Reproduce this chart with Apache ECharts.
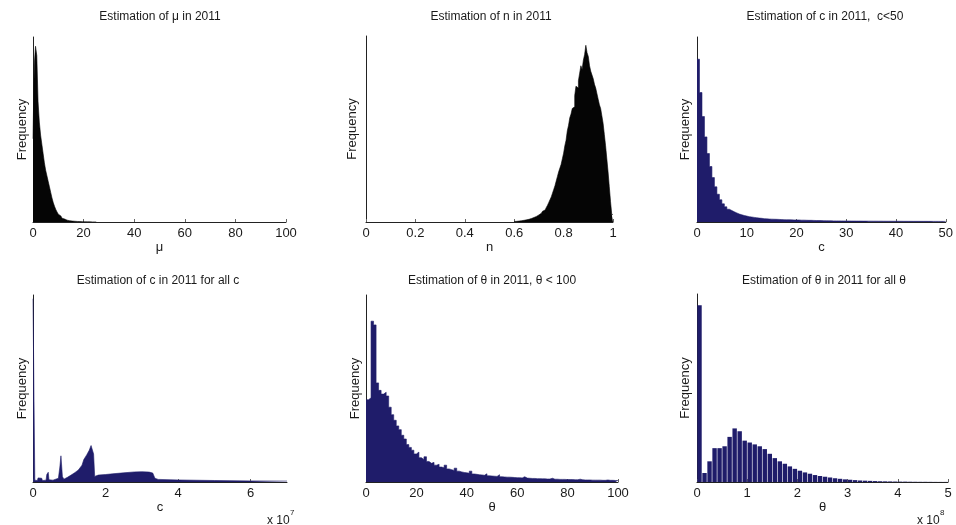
<!DOCTYPE html>
<html>
<head>
<meta charset="utf-8">
<script src="https://cdn.jsdelivr.net/npm/echarts@6/dist/echarts.min.js"></script>
<style>
html,body{margin:0;padding:0;background:#fff;}
#chart{width:956px;height:525px;}
</style>
</head>
<body>
<div id="chart"></div>
<script>
// ---------- DATA (relative frequency, % of axis height) ----------
// Panel 1: mu, bins of width 0.5 starting at 0
const muBinStart = 0, muBinWidth = 0.5;
const muFreq = [45, 85, 95, 90, 65, 54, 47, 42, 37, 32, 28, 25, 22, 19, 16, 13, 10.5, 8.5, 6.8, 5.4,
  4.2, 3.3, 2.6, 2.0, 1.6, 1.3, 1.0, 0.85, 0.7, 0.6, 0.5, 0.45, 0.4, 0.35, 0.3, 0.3, 0.25, 0.2, 0.2, 0.15,
  0.12, 0.1, 0.1, 0.08, 0.08, 0.06, 0.05, 0.05, 0.04, 0.04];

// Panel 2: n, bins of width 0.005 starting at 0.60
const nBinStart = 0.60, nBinWidth = 0.005;
const nFreq = [0.3, 0.35, 0.4, 0.5, 0.6, 0.7, 0.8, 0.9, 1.0, 1.15, 1.3, 1.45, 1.6, 1.9, 2.1, 2.4, 2.7, 3.0, 3.4, 3.8,
  4.2, 4.7, 5.2, 5.8, 6.4, 7.1, 7.8, 9.0, 10.5, 12, 13.5, 15.5, 17.5, 19.5, 22, 24.5, 27, 29, 31, 34,
  37, 41, 44, 49, 52, 56, 58, 61, 62, 68, 73, 72, 76, 80, 84, 82, 87, 90, 95, 91,
  89, 84, 81, 79, 77, 74, 72, 69, 66, 63, 61, 57, 53, 47, 41, 34, 27, 19, 11, 4];

// Panel 3: c < 50, bins of width 0.5 starting at 0
const cSmallBinStart = 0, cSmallBinWidth = 0.5;
const cSmallFreq = [88, 70, 57, 46, 37, 30, 24, 19, 15, 12, 9.8, 8.2, 6.9, 6.2, 5.5, 4.9, 4.3, 3.9, 3.5, 3.2,
  2.9, 2.7, 2.5, 2.3, 2.1, 2.0, 1.8, 1.7, 1.6, 1.55, 1.5, 1.45, 1.4, 1.3, 1.25, 1.2, 1.2, 1.15, 1.1, 1.1,
  1.1, 1.0, 1.0, 0.95, 0.9, 0.9, 0.85, 0.8, 0.8, 0.75, 0.7, 0.7, 0.65, 0.65, 0.6, 0.6, 0.6, 0.58, 0.56, 0.55,
  0.55, 0.53, 0.52, 0.5, 0.5, 0.5, 0.48, 0.48, 0.47, 0.46, 0.45, 0.45, 0.44, 0.44, 0.43, 0.42, 0.42, 0.41, 0.4, 0.4,
  0.4, 0.39, 0.38, 0.38, 0.37, 0.37, 0.36, 0.36, 0.36, 0.35, 0.35, 0.35, 0.34, 0.34, 0.33, 0.33, 0.33, 0.32, 0.32, 0.32];

// Panel 4: c for all c (x in units of 1e7), outline points of the histogram
const cAllX = [0, 0.005, 0.04, 0.05, 0.12, 0.14, 0.24, 0.26, 0.36, 0.38, 0.42, 0.44, 0.55, 0.70, 0.74, 0.77, 0.79, 0.81, 0.85, 0.95,
  1.05, 1.15, 1.25, 1.35, 1.40, 1.48, 1.52, 1.55, 1.60, 1.64, 1.67, 1.70, 1.80, 2.0, 2.2, 2.5, 2.8, 3.0, 3.2, 3.3,
  3.36, 3.45, 4.0, 5.0, 6.0, 7.0];
const cAllY = [98, 98, 98, 1, 0.8, 2.2, 2, 0.8, 1, 4, 5.2, 1.2, 1, 2, 8, 14, 13, 3, 1.5, 2.5,
  3.7, 5, 6.4, 9, 12, 14.5, 13.5, 17, 19.5, 20, 15, 3, 3.7, 4, 4.4, 4.9, 5.4, 5.5, 5.3, 4.8,
  2, 1.4, 1.1, 0.8, 0.6, 0.5];

// Panel 5: theta < 100, bins of width 1 starting at 0
const thSmallBinStart = 0, thSmallBinWidth = 1;
const thSmallFreq = [44, 45, 86, 84, 53, 49, 47, 48, 46, 40, 36, 33, 30, 28, 25, 23, 20, 18.5, 17, 15,
  16, 13, 12, 13.5, 11, 10, 10.5, 9, 9.5, 8, 7.6, 9, 7, 6.6, 6.2, 7.4, 5.8, 5.4, 5.1, 4.9,
  4.7, 5.8, 4.3, 4.1, 3.9, 3.8, 3.6, 4.4, 3.3, 3.2, 3.1, 3.0, 3.9, 2.8, 2.7, 2.6, 2.6, 2.5, 2.4, 2.3,
  2.3, 2.2, 2.8, 2.1, 2.0, 1.9, 1.9, 1.8, 1.8, 1.7, 1.7, 1.6, 1.6, 2.0, 1.5, 1.5, 1.4, 1.4, 1.4, 1.3,
  1.3, 1.3, 1.2, 1.2, 1.5, 1.2, 1.1, 1.1, 1.1, 1.0, 1.0, 1.0, 1.0, 0.9, 0.9, 1.1, 0.9, 0.9, 0.8, 0.8];

// Panel 6: theta for all theta (x in units of 1e8), bins of width 0.1 starting at 0
const thAllBinStart = 0, thAllBinWidth = 0.1;
const thAllFreq = [94, 4.8, 11, 18, 18, 19, 24, 28.5, 27, 22, 21, 20, 19, 17.5, 15, 12.7, 11, 9.7, 8.3, 7,
  6, 5.1, 4.4, 3.7, 3.2, 2.8, 2.4, 2.0, 1.7, 1.4, 1.2, 1.0, 0.8, 0.7, 0.6, 0.5, 0.4, 0.35, 0.3, 0.25,
  0.2, 0.2, 0.15, 0.12, 0.1, 0.1, 0.08, 0.06, 0.05, 0.05];

// Axis definitions
const axisMax = [100, 1, 50, 7, 100, 5];
const axisInterval = [20, 0.2, 10, 2, 20, 1];
const showMaxTick = [true, true, true, false, true, true];
const titles = [
  'Estimation of \u03bc in 2011',
  'Estimation of n in 2011',
  'Estimation of c in 2011,  c<50',
  'Estimation of c in 2011 for all c',
  'Estimation of \u03b8 in 2011, \u03b8 < 100',
  'Estimation of \u03b8 in 2011 for all \u03b8'
];
const xNames = ['\u03bc', 'n', 'c', 'c', '\u03b8', '\u03b8'];

// ---------- BUILD ----------
function histSteps(start, width, freq) {
  const pts = freq.map((v, i) => [start + i * width, v]);
  pts.push([start + freq.length * width, freq[freq.length - 1]]);
  return pts;
}
const BLACK = '#050505';
const NAVY = '#1f1c6a';
const FONT = 'Liberation Sans, Arial, Helvetica, sans-serif';
const TXT = '#1a1a1a';

const grids = [
  {left: 33, top: 37, width: 253, height: 185},
  {left: 366, top: 36, width: 247, height: 186},
  {left: 697, top: 37, width: 253, height: 185},
  {left: 33, top: 295, width: 254, height: 187},
  {left: 366, top: 295, width: 252, height: 187},
  {left: 697, top: 294, width: 251, height: 188}
];
const titlePos = [[160, 11], [491, 11], [825, 11], [158, 275], [492, 275], [824, 275]];
const nameGaps = [4, 7, 5, 4, 4, 5];

const option = {
  backgroundColor: '#ffffff',
  animation: false,
  title: titles.map((t, i) => ({
    text: t, left: titlePos[i][0], top: titlePos[i][1], textAlign: 'center', padding: 0,
    textStyle: {fontFamily: FONT, fontSize: 12, fontWeight: 'normal', color: TXT}
  })),
  grid: grids.map(g => Object.assign({containLabel: false}, g)),
  xAxis: grids.map((g, i) => ({
    type: 'value', gridIndex: i, min: 0, max: axisMax[i], interval: axisInterval[i],
    name: xNames[i], nameLocation: 'middle', nameGap: 14,
    nameTextStyle: {fontFamily: FONT, fontSize: 13, color: TXT},
    axisLine: {show: true, lineStyle: {color: '#222', width: 1}},
    axisTick: {show: true, inside: true, length: 3, lineStyle: {color: '#666'}},
    axisLabel: {fontFamily: FONT, fontSize: 13, color: TXT, margin: 5, showMaxLabel: showMaxTick[i]},
    splitLine: {show: false}
  })),
  yAxis: grids.map((g, i) => ({
    type: 'value', gridIndex: i, min: 0, max: 100,
    name: 'Frequency', nameLocation: 'middle', nameRotate: 90, nameGap: nameGaps[i],
    nameTextStyle: {fontFamily: FONT, fontSize: 13, color: TXT},
    axisLine: {show: true, lineStyle: {color: '#222', width: 1}},
    axisTick: {show: false}, axisLabel: {show: false}, splitLine: {show: false}
  })),
  series: [
    {type: 'line', xAxisIndex: 0, yAxisIndex: 0, step: 'end', showSymbol: false, silent: true,
     data: histSteps(muBinStart, muBinWidth, muFreq),
     lineStyle: {color: BLACK, width: 0.6}, areaStyle: {color: BLACK, opacity: 1}},
    {type: 'line', xAxisIndex: 1, yAxisIndex: 1, step: 'end', showSymbol: false, silent: true,
     data: histSteps(nBinStart, nBinWidth, nFreq),
     lineStyle: {color: BLACK, width: 0.6}, areaStyle: {color: BLACK, opacity: 1}},
    {type: 'line', xAxisIndex: 2, yAxisIndex: 2, step: 'end', showSymbol: false, silent: true,
     data: histSteps(cSmallBinStart, cSmallBinWidth, cSmallFreq),
     lineStyle: {color: NAVY, width: 0.6}, areaStyle: {color: NAVY, opacity: 1}},
    {type: 'line', xAxisIndex: 3, yAxisIndex: 3, showSymbol: false, silent: true,
     data: cAllX.map((x, i) => [x, cAllY[i]]),
     lineStyle: {color: NAVY, width: 0.6}, areaStyle: {color: NAVY, opacity: 1}},
    {type: 'line', xAxisIndex: 4, yAxisIndex: 4, step: 'end', showSymbol: false, silent: true,
     data: histSteps(thSmallBinStart, thSmallBinWidth, thSmallFreq),
     lineStyle: {color: NAVY, width: 0.6}, areaStyle: {color: NAVY, opacity: 1}},
    {type: 'bar', xAxisIndex: 5, yAxisIndex: 5, silent: true, barWidth: 4.4,
     data: thAllFreq.map((v, i) => [thAllBinStart + (i + 0.5) * thAllBinWidth, v]),
     itemStyle: {color: NAVY}}
  ],
  graphic: [
    {type: 'text', left: 267, top: 515, style: {text: 'x 10', font: '12px ' + FONT, fill: TXT}},
    {type: 'text', left: 290, top: 509, style: {text: '7', font: '8px ' + FONT, fill: TXT}},
    {type: 'text', left: 917, top: 515, style: {text: 'x 10', font: '12px ' + FONT, fill: TXT}},
    {type: 'text', left: 940, top: 509, style: {text: '8', font: '8px ' + FONT, fill: TXT}}
  ]
};

const chart = echarts.init(document.getElementById('chart'), null, {renderer: 'canvas'});
chart.setOption(option);
</script>
</body>
</html>
